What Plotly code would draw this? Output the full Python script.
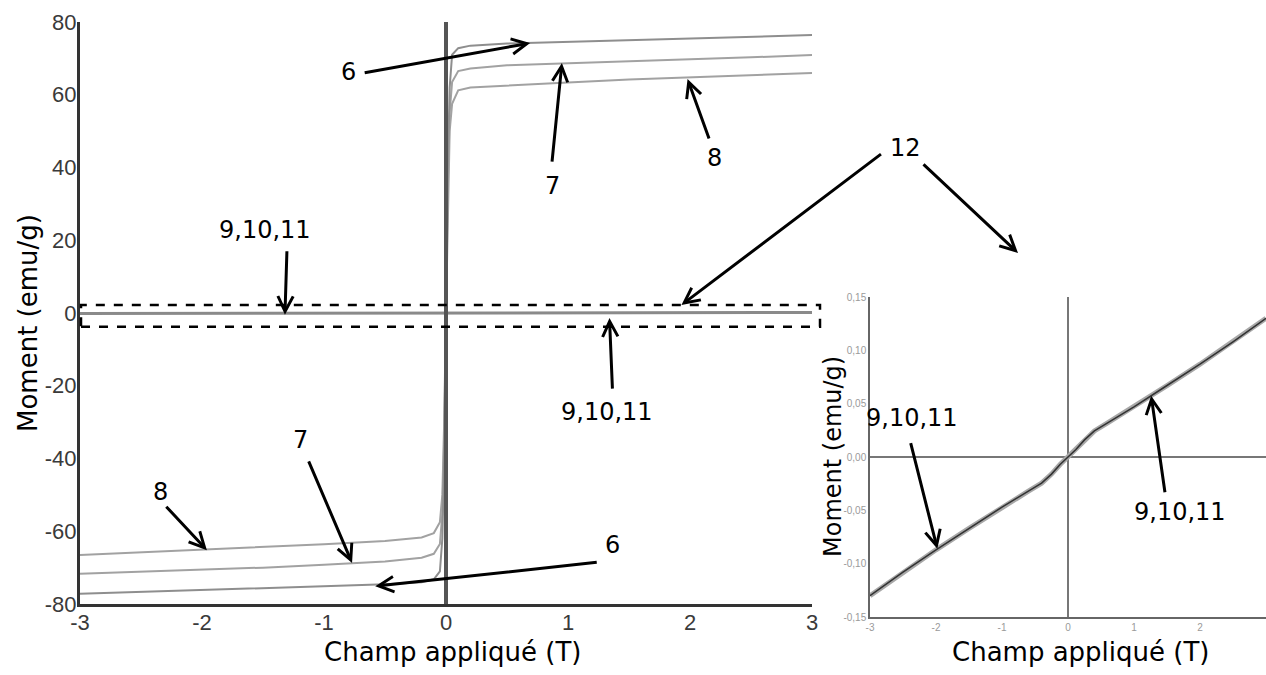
import plotly.graph_objects as go

# ---------------- data ----------------
field_T = [-3, -2.5, -2, -1.5, -1, -0.5, -0.2, -0.1, -0.05, -0.03, -0.015, 0,
           0.015, 0.03, 0.05, 0.1, 0.2, 0.5, 1, 1.5, 2, 2.5, 3]
moment_6 = [-77.2, -76.7, -76.2, -75.8, -75.3, -74.6, -74.0, -73.2, -71.0, -62, -40, 0,
            40, 62, 71.0, 72.8, 73.5, 74.1, 74.6, 75.0, 75.5, 75.9, 76.4]
moment_7 = [-71.7, -71.2, -70.6, -70.0, -69.2, -68.3, -67.3, -66.2, -63.5, -55, -35, 0,
            35, 55, 63.5, 66.5, 67.2, 68.1, 68.7, 69.2, 69.8, 70.3, 70.9]
moment_8 = [-66.5, -65.8, -65.1, -64.4, -63.6, -62.7, -61.7, -60.5, -57.5, -50, -30, 0,
            30, 50, 57.5, 61.2, 62.0, 62.6, 63.4, 64.2, 64.8, 65.4, 66.0]

field_small = [-3, -2.5, -2, -1.5, -1, -0.6, -0.4, -0.25, -0.12, 0,
               0.12, 0.25, 0.4, 0.6, 1, 1.5, 2, 2.5, 3]
moment_9_10_11 = [-0.130, -0.108, -0.087, -0.067, -0.047, -0.032, -0.0245, -0.016, -0.007, 0,
                  0.007, 0.016, 0.0245, 0.032, 0.047, 0.067, 0.087, 0.108, 0.130]

main_x_ticks = [-3, -2, -1, 0, 1, 2, 3]
main_x_labels = ["-3", "-2", "-1", "0", "1", "2", "3"]
main_y_ticks = [-80, -60, -40, -20, 0, 20, 40, 60, 80]
main_y_labels = ["-80", "-60", "-40", "-20", "0", "20", "40", "60", "80"]
inset_x_ticks = [-3, -2, -1, 0, 1, 2, 3]
inset_x_labels = ["-3", "-2", "-1", "0", "1", "2", "3"]
inset_y_ticks = [-0.15, -0.10, -0.05, 0.0, 0.05, 0.10, 0.15]
inset_y_labels = ["-0,15", "-0,10", "-0,05", "0,00", "0,05", "0,10", "0,15"]

x_title = "Champ appliqué (T)"
y_title = "Moment (emu/g)"

# ---------------- figure ----------------
W, H = 1266, 675
fig = go.Figure()

fig.add_trace(go.Scatter(x=field_small, y=moment_9_10_11, mode="lines",
                         line=dict(color="#8a8a8a", width=3), xaxis="x", yaxis="y"))
fig.add_trace(go.Scatter(x=field_T, y=moment_8, mode="lines",
                         line=dict(color="#a2a2a2", width=2), xaxis="x", yaxis="y"))
fig.add_trace(go.Scatter(x=field_T, y=moment_7, mode="lines",
                         line=dict(color="#a2a2a2", width=2), xaxis="x", yaxis="y"))
fig.add_trace(go.Scatter(x=field_T, y=moment_6, mode="lines",
                         line=dict(color="#8e8e8e", width=2), xaxis="x", yaxis="y"))

fig.add_trace(go.Scatter(x=field_small, y=moment_9_10_11, mode="lines",
                         line=dict(color="#a8a8a8", width=5), xaxis="x2", yaxis="y2"))
fig.add_trace(go.Scatter(x=field_small, y=moment_9_10_11, mode="lines",
                         line=dict(color="#333333", width=1.6), xaxis="x2", yaxis="y2"))

def px(x):
    return x / W

def py(y):
    return 1 - y / H

tick_font_main = dict(family="Liberation Sans", size=22, color="#3a3a3a")
tick_font_inset = dict(family="Liberation Sans", size=10, color="#9a9a9a")

fig.update_layout(
    width=W, height=H, template="none", showlegend=False,
    paper_bgcolor="white", plot_bgcolor="white",
    margin=dict(l=0, r=0, t=0, b=0),
    xaxis=dict(domain=[px(80), px(812)], range=[-3, 3], anchor="y",
               tickvals=main_x_ticks, ticktext=main_x_labels, tickfont=tick_font_main,
               showgrid=False, zeroline=False, showline=True, linecolor="#333333",
               linewidth=3, ticks="", automargin=False, ticklabelstandoff=-3),
    yaxis=dict(domain=[py(604), py(22)], range=[-80, 80], anchor="x",
               tickvals=main_y_ticks, ticktext=main_y_labels, tickfont=tick_font_main,
               showgrid=False, zeroline=False, showline=True, linecolor="#333333",
               linewidth=3, ticks="", automargin=False, ticklabelstandoff=-4),
    xaxis2=dict(domain=[px(870), 1.0], range=[-3, 3], anchor="y2",
                tickvals=inset_x_ticks, ticktext=inset_x_labels, tickfont=tick_font_inset,
                showgrid=False, zeroline=True, zerolinecolor="#777777", zerolinewidth=1.5,
                showline=True, linecolor="#666666", linewidth=1.5, ticks="", automargin=False),
    yaxis2=dict(domain=[py(617), py(297)], range=[-0.15, 0.15], anchor="x2",
                tickvals=inset_y_ticks, ticktext=inset_y_labels, tickfont=tick_font_inset,
                showgrid=False, zeroline=True, zerolinecolor="#777777", zerolinewidth=1.5,
                showline=True, linecolor="#666666", linewidth=1.5, ticks="", automargin=False),
)

# vertical line at zero field on main plot
fig.add_shape(type="line", xref="x", yref="y domain", x0=0, x1=0, y0=0, y1=1.0,
              line=dict(color="#555555", width=4), layer="above")
# dashed box around near-zero curves
fig.add_shape(type="rect", xref="paper", yref="y", x0=px(81), x1=px(820), y0=-3.8, y1=2.2,
              line=dict(color="black", width=2.5, dash="dash"), layer="above")

lab_font = dict(family="DejaVu Sans", size=24, color="black")
title_font = dict(family="DejaVu Sans", size=26, color="black")
inset_title_font = dict(family="DejaVu Sans", size=24, color="black")

# axis titles
fig.add_annotation(text=x_title, xref="paper", yref="paper", x=px(452), y=py(652),
                   showarrow=False, font=title_font, xanchor="center", yanchor="middle")
fig.add_annotation(text=y_title, xref="paper", yref="paper", x=px(28), y=py(323),
                   showarrow=False, font=title_font, textangle=-90, xanchor="center", yanchor="middle")
fig.add_annotation(text=x_title, xref="paper", yref="paper", x=px(1080), y=py(652),
                   showarrow=False, font=title_font, xanchor="center", yanchor="middle")
fig.add_annotation(text=y_title, xref="paper", yref="paper", x=px(833), y=py(457),
                   showarrow=False, font=inset_title_font, textangle=-90,
                   xanchor="center", yanchor="middle", borderpad=0)

# text labels (pixel centers)
labels = [("6", 348, 72), ("7", 552, 186), ("8", 714, 158), ("12", 906, 148),
          ("9,10,11", 265, 230), ("9,10,11", 607, 412), ("8", 160, 492),
          ("7", 300, 440), ("6", 612, 545), ("9,10,11", 912, 418), ("9,10,11", 1180, 512)]
for t, lx, ly in labels:
    fig.add_annotation(text=t, xref="paper", yref="paper", x=px(lx), y=py(ly),
                       showarrow=False, font=lab_font, xanchor="center", yanchor="middle",
                       borderpad=0)

# arrows: (xref, yref, tip_x, tip_y, tail offset ax, ay)
arrows = [
    ("x", "y", 0.69, 74.2, -167, 30),
    ("x", "y", 0.95, 68.7, -10, 100),
    ("x", "y", 1.98, 64.3, 22, 61),
    ("x", "y", 1.93, 2.2, 201, -152),
    ("paper", "paper", px(1018), py(253), -96, -90),
    ("x", "y", -1.32, -0.5, 2, -65),
    ("x", "y", 1.34, -1.4, 3, 72),
    ("x", "y", -1.96, -65.2, -42, -45),
    ("x", "y", -0.77, -68.7, -44, -103),
    ("x", "y", -0.58, -75.1, 223, -24),
    ("x2", "y2", -1.98, -0.086, -27, -107),
    ("x2", "y2", 1.26, 0.0575, 14, 98),
]
for xr, yr, tx, ty, ax, ay in arrows:
    fig.add_annotation(text="", xref=xr, yref=yr, x=tx, y=ty, ax=ax, ay=ay,
                       showarrow=True, arrowhead=5, arrowsize=1, arrowwidth=3,
                       arrowcolor="black", standoff=0, startstandoff=0)

fig.write_html("out.html", config={"displayModeBar": False},
               post_script="document.body.style.margin='0';")
